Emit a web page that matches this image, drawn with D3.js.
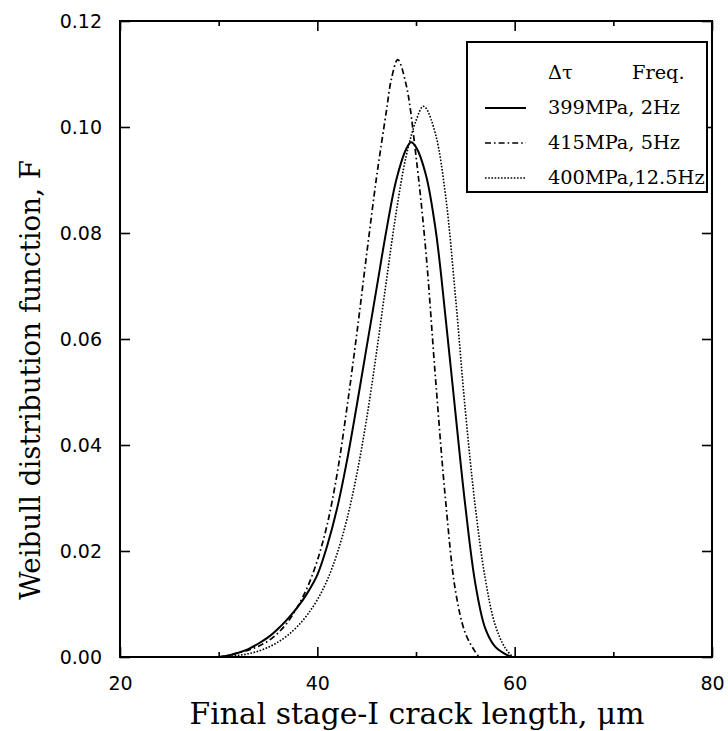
<!DOCTYPE html>
<html>
<head>
<meta charset="utf-8">
<script src="https://cdn.jsdelivr.net/npm/d3@7/dist/d3.min.js"></script>
<style>
  html, body { margin: 0; padding: 0; background: #fff; }
  svg { display: block; }
</style>
</head>
<body>
<svg id="chart" width="728" height="731"></svg>
<script>
// Weibull distribution of final stage-I crack length (µm)
const xDomain = [20, 80];
const yDomain = [0, 0.12];
const xMajorTicks = [20, 40, 60, 80];
const xMinorTicks = [30, 50, 70];
const yTicks = [0, 0.02, 0.04, 0.06, 0.08, 0.10, 0.12];
const yTickLabels = ["0.00", "0.02", "0.04", "0.06", "0.08", "0.10", "0.12"];

// 399 MPa, 2 Hz
const len399 = [30, 31, 32, 33, 34, 35, 36, 37, 38, 39, 40, 41, 42, 43, 44, 45, 46, 47, 48, 49, 49.5, 50, 51, 52, 53, 54, 55, 56, 57, 58, 59, 59.7];
const f399   = [0, 0.0003, 0.0008, 0.0015, 0.0025, 0.0037, 0.0053, 0.0072, 0.0094, 0.0121, 0.0155, 0.0210, 0.0280, 0.0370, 0.0475, 0.0585, 0.0695, 0.0805, 0.0900, 0.0958, 0.0971, 0.0962, 0.0910, 0.0805, 0.0640, 0.0460, 0.0285, 0.0140, 0.0055, 0.0020, 0.0006, 0];

// 415 MPa, 5 Hz
const len415 = [30, 31, 32, 33, 34, 35, 36, 37, 38, 39, 40, 41, 42, 43, 44, 45, 46, 47, 47.5, 48.15, 49, 50, 51, 52, 53, 54, 55, 56, 56.4];
const f415   = [0, 0.0003, 0.0008, 0.0013, 0.0020, 0.0030, 0.0045, 0.0066, 0.0095, 0.0132, 0.0182, 0.0250, 0.0345, 0.0470, 0.0610, 0.0760, 0.0905, 0.1030, 0.1090, 0.1127, 0.1080, 0.0945, 0.0765, 0.0520, 0.0295, 0.0125, 0.0045, 0.0010, 0];

// 400 MPa, 12.5 Hz
const len400 = [30, 31, 32, 33, 34, 35, 36, 37, 38, 39, 40, 41, 42, 43, 44, 45, 46, 47, 48, 49, 50, 50.7, 51, 52, 53, 54, 55, 56, 57, 58, 59, 59.8];
const f400   = [0, 0.0001, 0.0003, 0.0006, 0.0011, 0.0018, 0.0028, 0.0041, 0.0058, 0.0080, 0.0108, 0.0145, 0.0195, 0.0260, 0.0345, 0.0450, 0.0575, 0.0710, 0.0840, 0.0945, 0.1012, 0.1039, 0.1036, 0.0985, 0.0870, 0.0680, 0.0465, 0.0285, 0.0150, 0.0062, 0.0018, 0];

const seriesNames = ["399MPa, 2Hz", "415MPa, 5Hz", "400MPa,12.5Hz"];
const seriesLengths = [len399, len415, len400];
const seriesValues = [f399, f415, f400];
const seriesDash = [null, "6,3,1.6,3", "1.6,1.6"];
const seriesWidth = [2, 1.7, 1.6];

const svg = d3.select("#chart");
const margin = { left: 120, right: 16, top: 21, bottom: 74 };
const W = 728, H = 731;
const x = d3.scaleLinear().domain(xDomain).range([margin.left, W - margin.right]);
const y = d3.scaleLinear().domain(yDomain).range([H - margin.bottom, margin.top]);

const tickFont = "'DejaVu Sans', sans-serif";
const labelFont = "'DejaVu Serif', serif";

// set a text element's font size so that it spans the given width
function fitWidth(sel, width) {
  const node = sel.node();
  const fs = parseFloat(sel.attr("font-size"));
  const w = node.getComputedTextLength();
  sel.attr("font-size", (fs * width / w).toFixed(2));
}

// bottom axis (inward ticks)
const gx = svg.append("g").attr("transform", `translate(0,${y(0)})`)
  .call(d3.axisBottom(x).tickValues(xMajorTicks).tickSizeInner(-10).tickSizeOuter(0).tickPadding(20).tickFormat(d3.format("d")));
gx.select(".domain").remove();
gx.selectAll("text").attr("font-family", tickFont).attr("font-size", 19).attr("fill", "#000");
gx.selectAll("line").attr("stroke", "#000").attr("stroke-width", 1.6);
svg.append("g").attr("transform", `translate(0,${y(0)})`)
  .call(d3.axisBottom(x).tickValues(xMinorTicks).tickSizeInner(-5).tickSizeOuter(0).tickFormat(""))
  .call(g => g.select(".domain").remove())
  .selectAll("line").attr("stroke", "#000").attr("stroke-width", 1.6);

// top axis ticks
svg.append("g").attr("transform", `translate(0,${y(0.12)})`)
  .call(d3.axisTop(x).tickValues(xMajorTicks).tickSizeInner(-10).tickSizeOuter(0).tickFormat(""))
  .call(g => g.select(".domain").remove())
  .selectAll("line").attr("stroke", "#000").attr("stroke-width", 1.6);
svg.append("g").attr("transform", `translate(0,${y(0.12)})`)
  .call(d3.axisTop(x).tickValues(xMinorTicks).tickSizeInner(-5).tickSizeOuter(0).tickFormat(""))
  .call(g => g.select(".domain").remove())
  .selectAll("line").attr("stroke", "#000").attr("stroke-width", 1.6);

// left axis
const gy = svg.append("g").attr("transform", `translate(${x(20)},0)`)
  .call(d3.axisLeft(y).tickValues(yTicks).tickSizeInner(-10).tickSizeOuter(0).tickPadding(18)
    .tickFormat((d, i) => yTickLabels[i]));
gy.select(".domain").remove();
gy.selectAll("text").attr("font-family", tickFont).attr("font-size", 19).attr("fill", "#000");
gy.selectAll("line").attr("stroke", "#000").attr("stroke-width", 1.6);

// right axis ticks
svg.append("g").attr("transform", `translate(${x(80)},0)`)
  .call(d3.axisRight(y).tickValues(yTicks).tickSizeInner(-10).tickSizeOuter(0).tickFormat(""))
  .call(g => g.select(".domain").remove())
  .selectAll("line").attr("stroke", "#000").attr("stroke-width", 1.6);

// frame
svg.append("rect")
  .attr("x", x(20)).attr("y", y(0.12))
  .attr("width", x(80) - x(20)).attr("height", y(0) - y(0.12))
  .attr("fill", "none").attr("stroke", "#000").attr("stroke-width", 2);

// curves
const line = d3.line().x(d => x(d[0])).y(d => y(d[1])).curve(d3.curveCatmullRom.alpha(0.5));
seriesValues.forEach((vals, i) => {
  const pts = seriesLengths[i].map((l, j) => [l, vals[j]]);
  svg.append("path")
    .datum(pts)
    .attr("d", line)
    .attr("fill", "none")
    .attr("stroke", "#000")
    .attr("stroke-width", seriesWidth[i])
    .attr("stroke-dasharray", seriesDash[i]);
});

// legend
const lg = svg.append("g");
lg.append("rect")
  .attr("x", 467).attr("y", 42).attr("width", 240).attr("height", 150)
  .attr("fill", "#fff").attr("stroke", "#000").attr("stroke-width", 2);
const rowTexts = [];
seriesNames.forEach((name, i) => {
  const yy = 108 + i * 35;
  lg.append("line")
    .attr("x1", 485).attr("x2", 526).attr("y1", yy).attr("y2", yy)
    .attr("stroke", "#000").attr("stroke-width", seriesWidth[i])
    .attr("stroke-dasharray", seriesDash[i]);
  rowTexts.push(lg.append("text").attr("x", 548).attr("y", yy + 6)
    .attr("font-family", labelFont).attr("font-size", 17).text(name));
});
fitWidth(rowTexts[0], 132);
const legendSize = rowTexts[0].attr("font-size");
rowTexts.forEach(t => t.attr("font-size", legendSize));
lg.append("text").attr("x", 548).attr("y", 79)
  .attr("font-family", labelFont).attr("font-size", legendSize).text("Δτ");
lg.append("text").attr("x", 632).attr("y", 79)
  .attr("font-family", labelFont).attr("font-size", legendSize).text("Freq.");

// axis titles
const xt = svg.append("text")
  .attr("x", 417).attr("y", 724)
  .attr("text-anchor", "middle")
  .attr("font-family", labelFont).attr("font-size", 22)
  .text("Final stage-I crack length, μm");
fitWidth(xt, 455);
const yt = svg.append("text")
  .attr("transform", `translate(40,380) rotate(-90)`)
  .attr("text-anchor", "middle")
  .attr("font-family", labelFont).attr("font-size", 22)
  .text("Weibull distribution function, F");
fitWidth(yt, 440);
</script>
</body>
</html>
